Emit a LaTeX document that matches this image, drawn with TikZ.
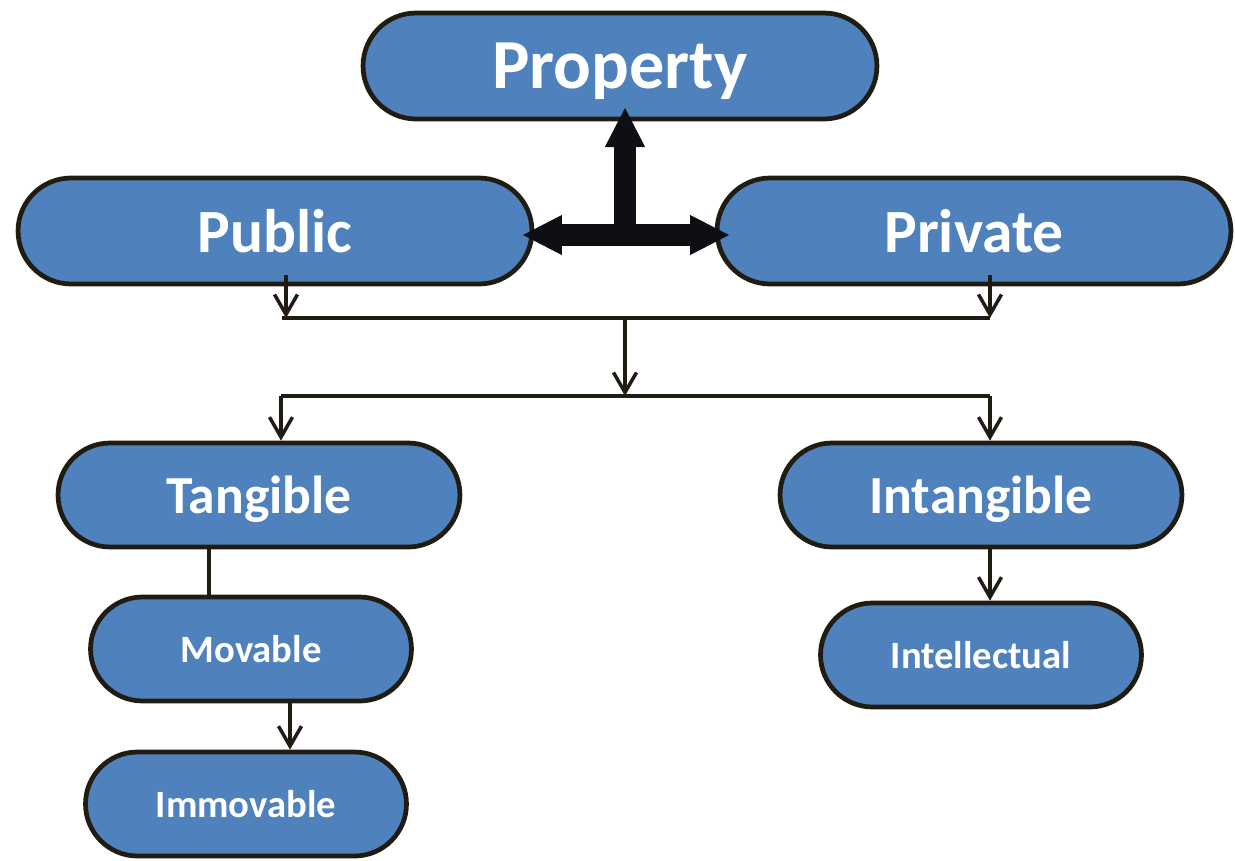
\documentclass[tikz,border=0pt]{standalone}
\usepackage{fontspec}
\setmainfont{Carlito}
\usetikzlibrary{arrows.meta}

\definecolor{boxblue}{HTML}{4F81BD}
\definecolor{edge}{HTML}{201C12}
\definecolor{ink}{HTML}{0E0F12}

\tikzset{
    box/.style={draw=edge, line width=2.7pt, fill=boxblue, text=white,
        inner sep=0pt, text depth=0pt},
    topbox/.style={box, minimum width=10.28cm, minimum height=2.12cm,
        rounded corners=1.06cm},
    midbox/.style={box, minimum width=8.04cm, minimum height=2.08cm,
        rounded corners=1.04cm, font=\bfseries\fontsize{30.5}{30.5}\selectfont},
    smallbox/.style={box, minimum width=6.42cm, minimum height=2.08cm,
        rounded corners=1.04cm, font=\bfseries\fontsize{22}{22}\selectfont},
    link/.style={draw=edge, line width=2pt},
    arr/.style={link, -{Straight Barb[length=0.4cm, width=0.46cm]}},
    fat/.style={draw=ink, line width=12pt,
        -{Triangle[length=0.8cm, width=0.74cm]}}
}

\begin{document}
\begin{tikzpicture}[x=0.02cm, y=-0.02cm]
    \useasboundingbox (0,0) rectangle (1235,860);

    % Top level boxes
    \node[topbox, font=\bfseries\fontsize{40}{40}\selectfont] (property) at (620,66) {Property};
    \node[topbox, font=\bfseries\fontsize{35}{35}\selectfont] (public) at (275,231) {Public};
    \node[topbox, font=\bfseries\fontsize{35}{35}\selectfont] (private) at (974,231) {Private};

    % Second level
    \node[midbox] (tangible) at (259,495) {Tangible};
    \node[midbox] (intangible) at (981,495) {Intangible};

    % Leaves
    \node[smallbox] (movable) at (251,649) {Movable};
    \node[smallbox] (immovable) at (246,804) {Immovable};
    \node[smallbox] (intellectual) at (981,655) {Intellectual};

    % Fat arrows between the top boxes
    \coordinate (hub) at (625,235);
    \coordinate (pubtip) at (522,235);
    \coordinate (pritip) at (730,235);
    \coordinate (proptip) at (625,107);
    \draw[fat] (hub) -- (pubtip);
    \draw[fat] (hub) -- (pritip);
    \draw[fat] (hub) -- (proptip);

    % Join line under Public and Private
    \coordinate (pubL) at (286,275);
    \coordinate (priR) at (990,275);
    \coordinate (upL) at (286,318);
    \coordinate (upR) at (990,318);
    \coordinate (upM) at (625,318);
    \draw[arr] (pubL) -- (upL);
    \draw[arr] (priR) -- (upR);
    \draw[link] ([xshift=-2pt]upL) -- (upR);

    % Split line over Tangible and Intangible
    \coordinate (loM) at (625,396);
    \coordinate (loL) at (281,396);
    \coordinate (loR) at (990,396);
    \draw[arr] (upM) -- (loM);
    \draw[link] (loL) -- (loR);
    \draw[arr] (loL) -- (tangible.north -| loL);
    \draw[arr] (loR) -- (intangible.north -| loR);

    % Links down to the leaves
    \coordinate (tanX) at (209,0);
    \coordinate (movX) at (290,0);
    \coordinate (intX) at (990,0);
    \draw[link] (tangible.south -| tanX) -- (movable.north -| tanX);
    \draw[arr] (movable.south -| movX) -- (immovable.north -| movX);
    \draw[arr] (intangible.south -| intX) -- (intellectual.north -| intX);
\end{tikzpicture}
\end{document}
